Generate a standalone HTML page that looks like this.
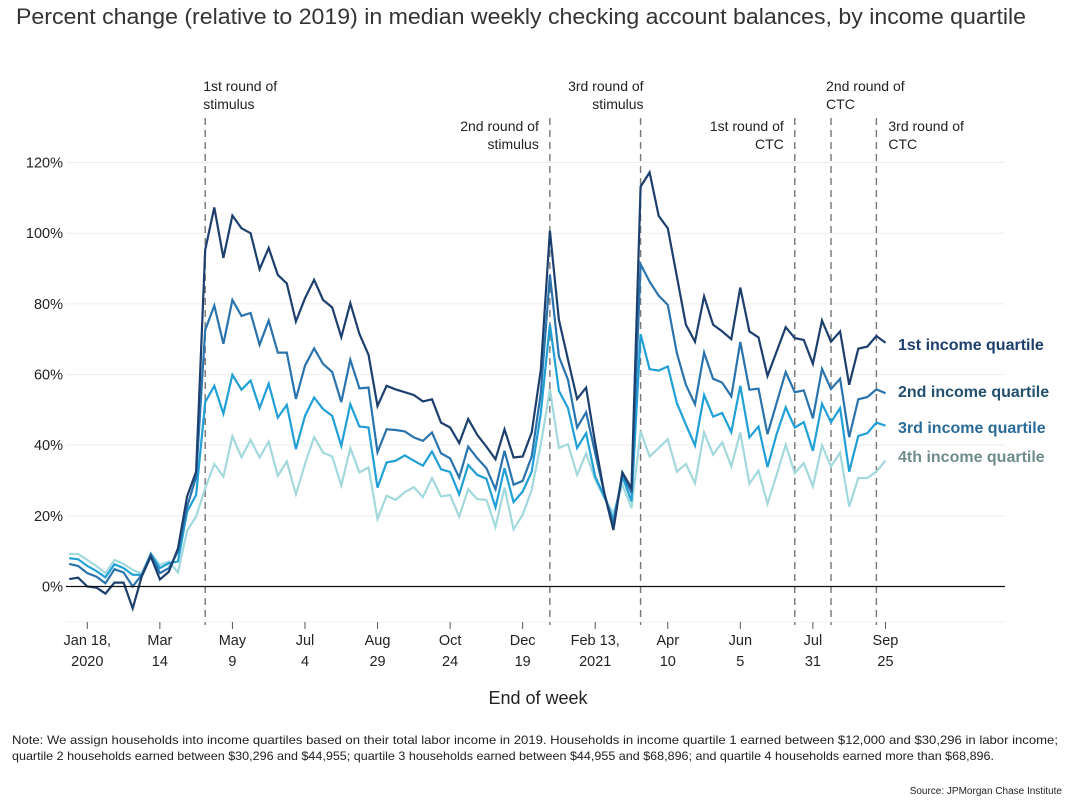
<!DOCTYPE html>
<html><head><meta charset="utf-8"><style>
body{margin:0;background:#fff;width:1070px;height:800px;overflow:hidden;font-family:"Liberation Sans",sans-serif;}
svg{display:block}
</style></head><body>
<svg id="chart" width="1070" height="800" xmlns="http://www.w3.org/2000/svg" font-family="Liberation Sans, sans-serif">
<text x="16" y="24" font-size="22" fill="#333" textLength="1010" lengthAdjust="spacingAndGlyphs">Percent change (relative to 2019) in median weekly checking account balances, by income quartile</text>
<g id="grid"></g><g id="events"></g><g id="lines"></g><g id="axes"></g>
<text x="538" y="704" font-size="18" fill="#222" text-anchor="middle">End of week</text>
<text x="12" y="744" font-size="12" fill="#222" textLength="1046" lengthAdjust="spacingAndGlyphs">Note: We assign households into income quartiles based on their total labor income in 2019. Households in income quartile 1 earned between $12,000 and $30,296 in labor income;</text>
<text x="12" y="760" font-size="12" fill="#222" textLength="982" lengthAdjust="spacingAndGlyphs">quartile 2 households earned between $30,296 and $44,955; quartile 3 households earned between $44,955 and $68,896; and quartile 4 households earned more than $68,896.</text>
<text x="1062" y="794" font-size="10" fill="#222" text-anchor="end">Source: JPMorgan Chase Institute</text>
</svg>
<script>
const q1=[2.1,2.5,0,-0.3,-2,1.1,1.1,-6.2,2.8,8.5,2,4.2,10.8,25.5,32.5,95.3,107.3,93,105,101.4,100,89.8,95.8,88.2,85.8,75,81.6,86.8,81.1,79,70.6,80.2,71.5,65.6,51.1,56.8,55.8,55,54.2,52.4,53,46.4,45,40.6,47.4,42.9,39.6,36,44.5,36.5,36.8,43.6,61.3,100.7,75.5,64.2,53.1,56.3,40.6,26.4,16,32.3,27.8,113.2,117.2,104.9,101.4,87.7,74.1,69.3,82.1,74.1,72.2,70,84.6,72.2,70.5,59.6,66.5,73.4,70.3,69.8,63,75.3,69.3,72.2,57.1,67.3,67.9,70.9,69];
const q2=[6.4,5.8,3.8,2.8,0.9,4.9,4,0,3.3,9,3.8,5.2,9.9,22.6,31,72.6,79.5,68.7,81.1,76.6,77.4,68.4,75.3,66.2,66.2,53.1,62.5,67.4,63,60.7,52.2,64.2,56.1,56.3,38,44.5,44.3,43.9,42.2,41.2,43.6,37.7,36.3,30.8,39.6,36.3,33.5,27.5,38.4,28.8,29.9,36.8,54.7,88.2,65.1,58.5,45,49.3,37.7,26.4,17.5,32.1,26.4,91.2,86.3,82.3,79.7,66,57.1,51.6,66.2,58.8,57.7,53.8,69.2,55.7,56,43.1,51.9,60.7,55,55.5,47.6,61.6,55.9,58.8,42.3,53,53.6,55.8,54.7];
const q3=[8,7.7,5.8,4.4,2.6,6.3,5.2,3.3,3.3,9.2,5.2,6.6,7.1,21.2,25.9,52.2,56.8,48.9,59.9,55.7,58.3,50.5,57.4,47.8,51.4,38.9,48.3,53.5,50.2,48.3,39.8,51.6,45.3,45,28,35.1,35.6,37.1,35.6,34.2,38.2,33.2,32.4,26.1,34.4,31.6,30.5,22.4,33.5,23.9,26.9,32.5,49,74.2,55.4,50.5,39.2,43.4,31.1,25.5,18.9,31.1,24.1,71.4,61.5,61.1,62.3,51.9,45.8,39.9,54.2,48.1,49.1,43.7,56.8,42.2,45.3,33.8,43.1,50.7,45,46.5,38.4,51.7,46.5,50.5,32.5,42.6,43.4,46.4,45.5];
const q4=[9.2,9.2,7.5,5.8,3.8,7.5,6.4,4.7,3.6,9.4,6.1,7.1,4,15.8,19.8,27.8,34.7,31.1,42.5,36.6,41.5,36.5,41,31.3,35.4,26.1,34.7,42.3,37.9,36.8,28.6,39.2,32.3,33.7,19.1,25.7,24.5,26.7,28.1,25.3,30.7,25.5,25.9,19.8,27.5,24.7,24.5,16.8,28,16.2,20.3,27.4,40.1,55.8,39.2,40.3,31.6,37.7,30.2,25,20.8,28.8,22.2,43.9,36.8,39.2,41.7,32.5,34.7,29.2,43.6,37.3,40.8,34,43.6,29.1,32.8,23.4,31.6,40.1,32.1,34.9,28.3,39.9,34,37.9,22.6,30.7,30.7,32.5,35.7];
const yTicks=[0,20,40,60,80,100,120];
const xTickWeeks=[0,8,16,24,32,40,48,56,64,72,80,88];
const xTickLine1=["Jan 18,","Mar","May","Jul","Aug","Oct","Dec","Feb 13,","Apr","Jun","Jul","Sep"];
const xTickLine2=["2020","14","9","4","29","24","19","2021","10","5","31","25"];
const eventWeeks=[13,51,61,78,82,87];
const eventL1=["1st round of","2nd round of","3rd round of","1st round of","2nd round of","3rd round of"];
const eventL2=["stimulus","stimulus","stimulus","CTC","CTC","CTC"];
const seriesNames=["1st income quartile","2nd income quartile","3rd income quartile","4th income quartile"];

const NS="http://www.w3.org/2000/svg";
const X=w=>87.3+w*9.07;
const Y=v=>586.5-v*3.533;
function mk(tag,attrs,parent,txt){const e=document.createElementNS(NS,tag);for(const k in attrs)e.setAttribute(k,attrs[k]);if(txt!=null)e.textContent=txt;parent.appendChild(e);return e;}
const grid=document.getElementById('grid'),axes=document.getElementById('axes'),ev=document.getElementById('events'),lines=document.getElementById('lines');
mk('line',{x1:66,x2:1005,y1:622,y2:622,stroke:'#f0f0f0'},grid);
yTicks.forEach(t=>{
  if(t!==0){const g=mk('line',{x1:66,x2:1005,y1:Y(t),y2:Y(t),stroke:'#eeeeee','stroke-width':1},grid);
  
  }
  const l=mk('text',{x:63,y:Y(t)+5,'font-size':14.5,fill:'#222','text-anchor':'end'},axes,t+'%');
  
  
});
const zero=mk('line',{x1:66,x2:1005,y1:Y(0),y2:Y(0),stroke:'#111','stroke-width':1.3},axes);


xTickWeeks.forEach((w,i)=>{
  mk('line',{x1:X(w),x2:X(w),y1:622,y2:629,stroke:'#555','stroke-width':1},axes);
  const t=mk('text',{x:X(w),y:645,'font-size':14.5,fill:'#222','text-anchor':'middle'},axes,xTickLine1[i]);
  
  
  const t2=mk('text',{x:X(w),y:666,'font-size':14.5,fill:'#222','text-anchor':'middle'},axes,xTickLine2[i]);
  
  
});
const evAnchor=['start','end','end','end','start','start'];
const evDx=[-2,-11,3,-11,-5,12];
const evRow=[0,1,0,1,0,1];
eventWeeks.forEach((w,i)=>{
  const x=X(w);
  const l=mk('line',{x1:x,x2:x,y1:118,y2:625,stroke:'#777','stroke-width':1.4,'stroke-dasharray':'7,5'},ev);
  
  
  const tx=x+evDx[i];
  const ty=evRow[i]?131:91;
  const t=mk('text',{x:tx,y:ty,'font-size':14,fill:'#222','text-anchor':evAnchor[i]},ev);
  
  
  mk('tspan',{x:tx,dy:0},t,eventL1[i]);
  mk('tspan',{x:tx,dy:18},t,eventL2[i]);
});
const series=[q1,q2,q3,q4];
const colors=['#1c3f6e','#2a73ad','#20a0d6','#a3d9dc'];
const labelColors=['#1d3f6e','#22506e','#2a6a98','#6f8c8c'];
const labelY=[350,397,433,462];
for(let s=3;s>=0;s--){
  const d=series[s].map((v,i)=>(i?'L':'M')+X(i-2).toFixed(1)+','+Y(v).toFixed(1)).join(' ');
  const p=mk('path',{d:d,fill:'none',stroke:colors[s],'stroke-width':2.2,'stroke-linejoin':'miter'},lines);
  
  
}
seriesNames.forEach((n,s)=>{
  const t=mk('text',{x:898,y:labelY[s],'font-size':16,'font-weight':'bold',fill:labelColors[s]},axes,n);
  
  
});
</script>
</body></html>
